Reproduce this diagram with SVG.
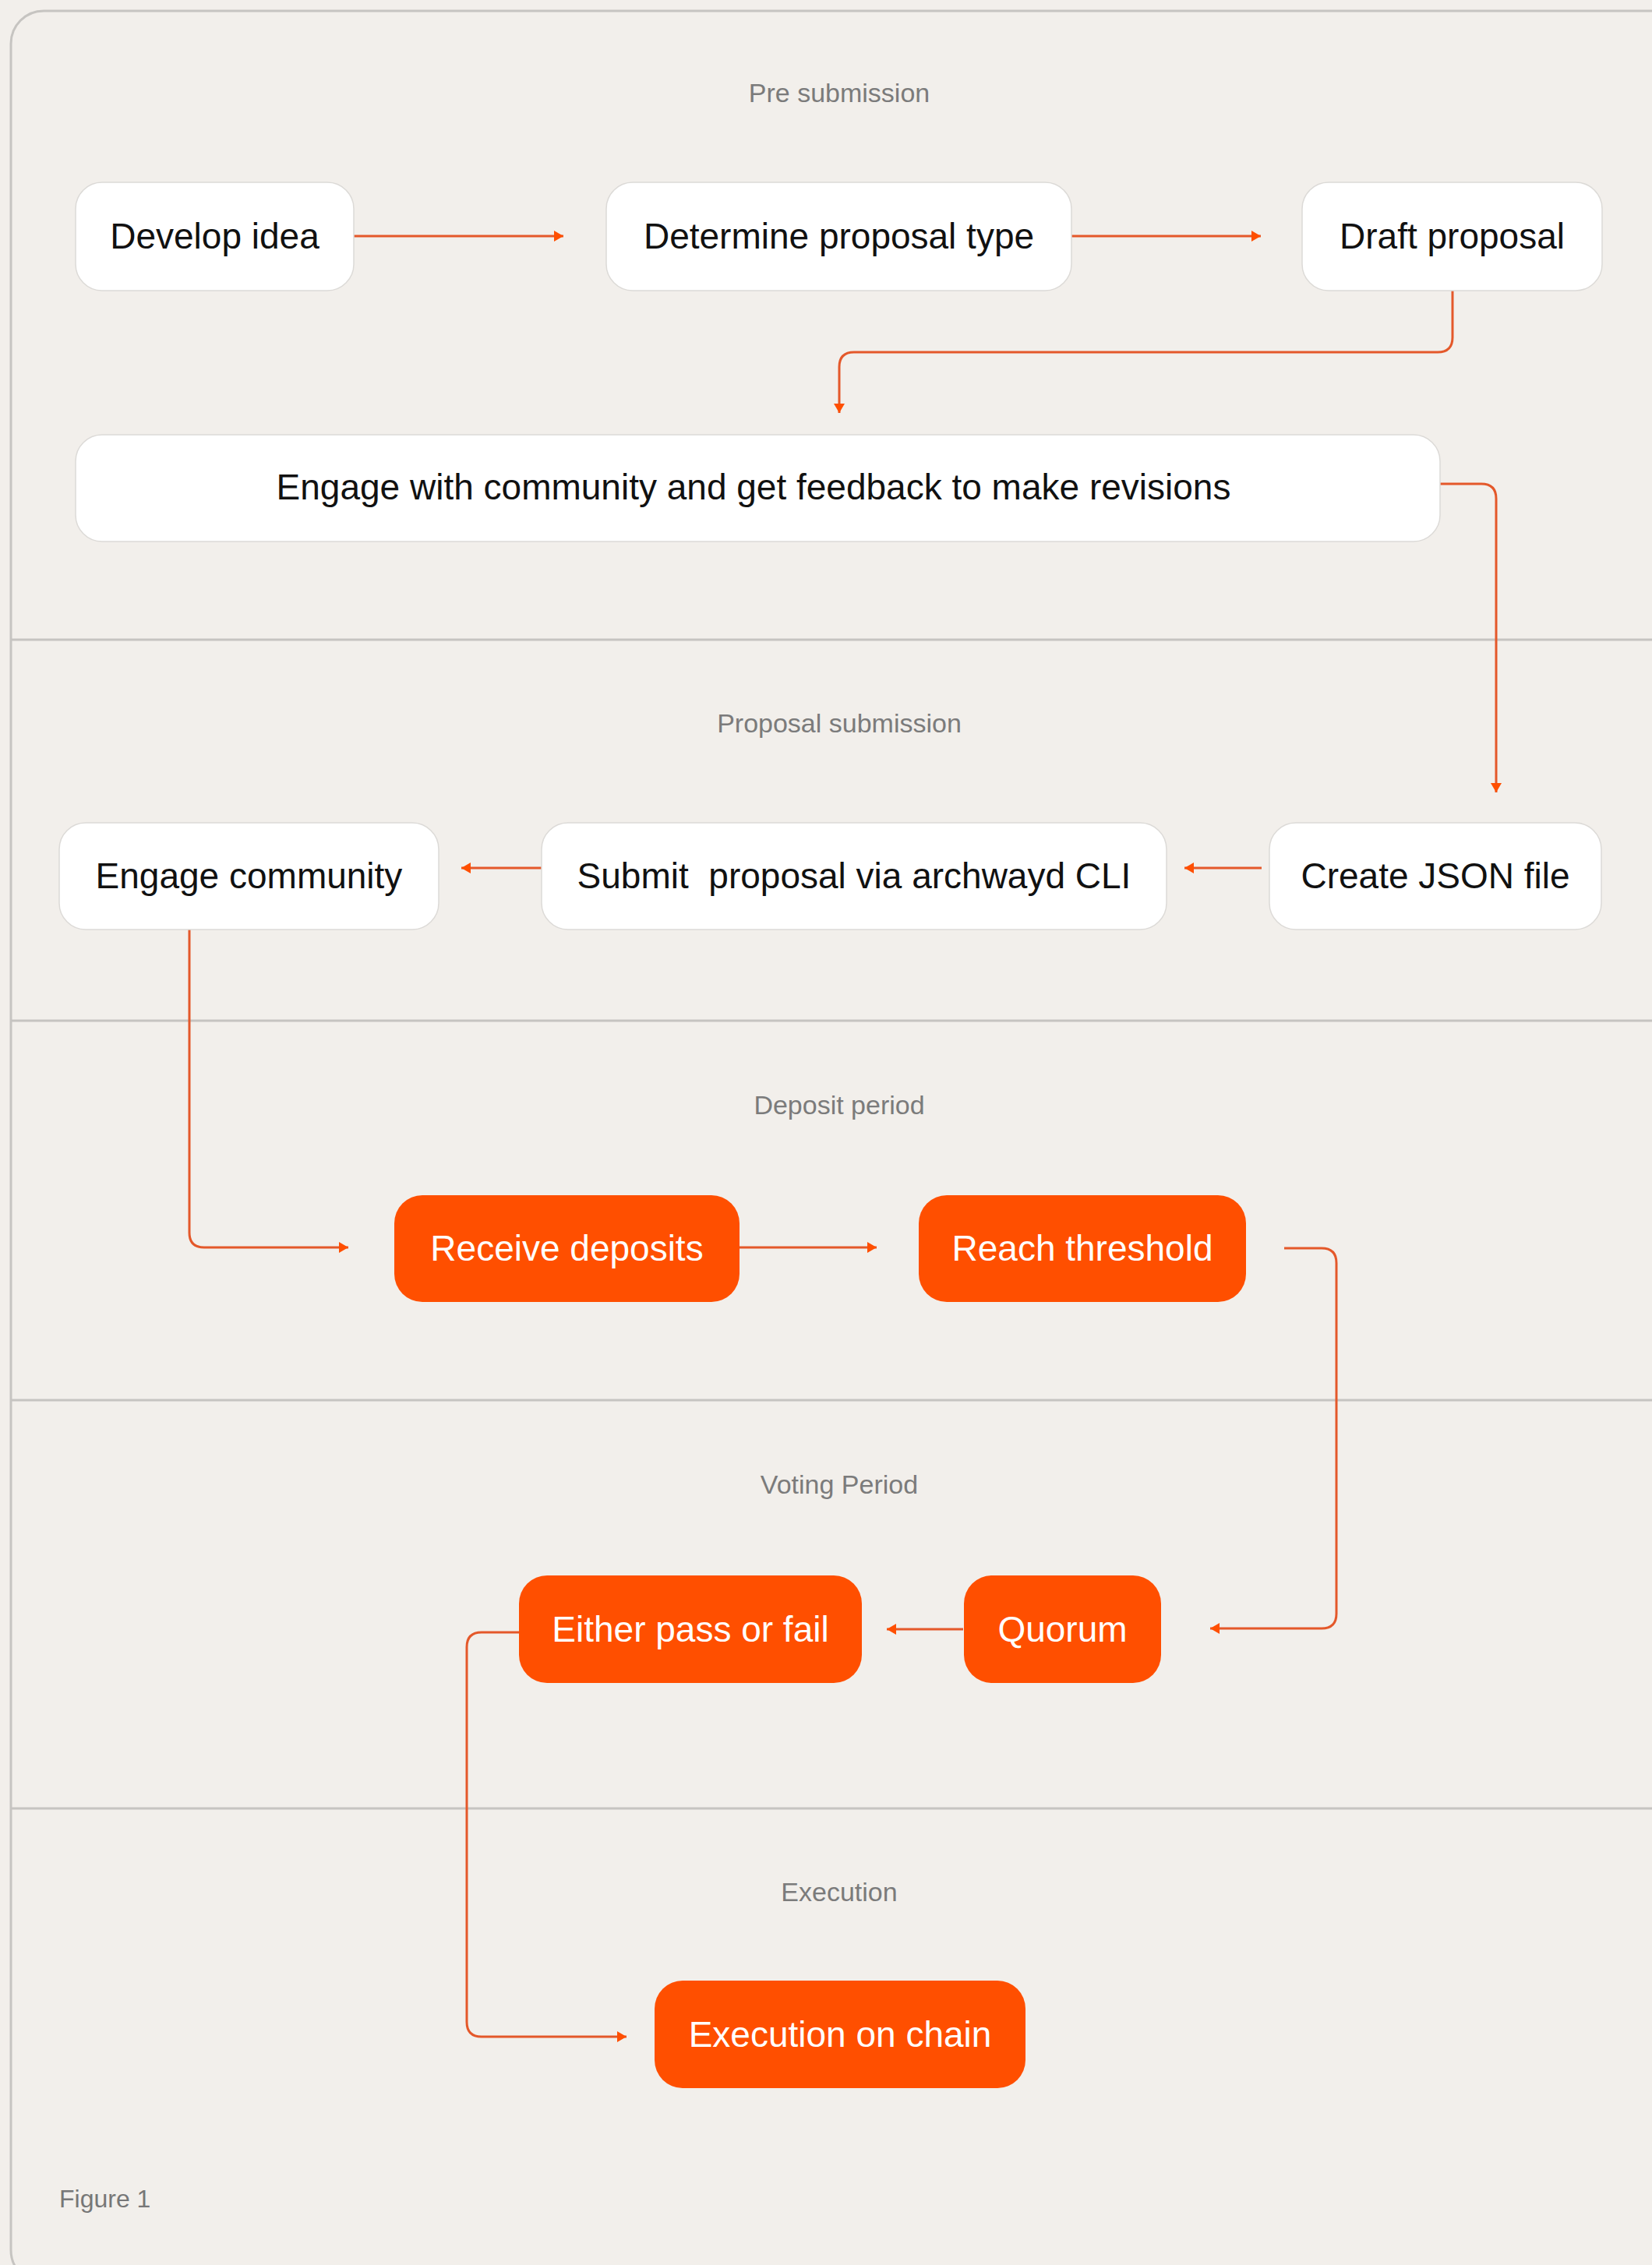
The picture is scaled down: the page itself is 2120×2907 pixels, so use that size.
<svg xmlns="http://www.w3.org/2000/svg" width="2120" height="2907" viewBox="0 0 2120 2907">
<defs>
<style>
.bg{fill:#f2efeb}
.frame{fill:#f2efeb;stroke:#c6c4c1;stroke-width:3}
.div{stroke:#c6c4c1;stroke-width:3}
.wbox{fill:#ffffff;stroke:#dcdad7;stroke-width:1.5}
.obox{fill:#ff4f00}
.t{font-family:"Liberation Sans",Arial,sans-serif;font-size:46px;text-anchor:middle;fill:#111111;white-space:pre}
.tw{fill:#ffffff}
.lab{font-family:"Liberation Sans",Arial,sans-serif;font-size:34px;text-anchor:middle;fill:#7b7b7b}
.fig{font-family:"Liberation Sans",Arial,sans-serif;font-size:32px;fill:#777777}
.c{fill:none;stroke:#e4582a;stroke-width:3;marker-end:url(#ah)}
</style>
<marker id="ah" viewBox="0 0 12 14" refX="12" refY="7" markerWidth="12" markerHeight="14" markerUnits="userSpaceOnUse" orient="auto">
<path d="M0,0 L12,7 L0,14 Z" fill="#ff4f00"/>
</marker>
</defs>
<rect class="bg" x="0" y="0" width="2120" height="2907"/>
<rect class="frame" x="14" y="14" width="2200" height="2916" rx="42"/>
<g id="dividers">
<line class="div" x1="15" y1="821" x2="2120" y2="821"/>
<line class="div" x1="15" y1="1310" x2="2120" y2="1310"/>
<line class="div" x1="15" y1="1797" x2="2120" y2="1797"/>
<line class="div" x1="15" y1="2321" x2="2120" y2="2321"/>
</g>
<g id="labels">
<text class="lab" x="1077" y="131">Pre submission</text>
<text class="lab" x="1077" y="940">Proposal submission</text>
<text class="lab" x="1077" y="1430">Deposit period</text>
<text class="lab" x="1077" y="1917">Voting Period</text>
<text class="lab" x="1077" y="2440">Execution</text>
<text class="fig" x="76" y="2833">Figure 1</text>
</g>
<g id="connectors">
<path class="c" d="M454,303 H723"/>
<path class="c" d="M1375,303 H1618"/>
<path class="c" d="M1864,373 V433 Q1864,452 1845,452 H1096 Q1077,452 1077,471 V530"/>
<path class="c" d="M1848,621 H1901 Q1920,621 1920,640 V1017"/>
<path class="c" d="M1619,1114 H1520"/>
<path class="c" d="M695,1114 H592"/>
<path class="c" d="M243,1193 V1582 Q243,1601 262,1601 H447"/>
<path class="c" d="M949,1601 H1125"/>
<path class="c" d="M1648,1602 H1696 Q1715,1602 1715,1621 V2071 Q1715,2090 1696,2090 H1553"/>
<path class="c" d="M1236,2091 H1138"/>
<path class="c" d="M666,2095 H618 Q599,2095 599,2114 V2595 Q599,2614 618,2614 H804"/>
</g>
<g id="n-develop"><rect class="wbox" x="97" y="234" width="357" height="139" rx="34"/><text class="t" x="275.5" y="319">Develop idea</text></g>
<g id="n-determine"><rect class="wbox" x="778" y="234" width="597" height="139" rx="34"/><text class="t" x="1076.5" y="319">Determine proposal type</text></g>
<g id="n-draft"><rect class="wbox" x="1671" y="234" width="385" height="139" rx="34"/><text class="t" x="1863.5" y="319">Draft proposal</text></g>
<g id="n-engage-revise"><rect class="wbox" x="97" y="558" width="1751" height="137" rx="34"/><text class="t" x="967" y="641">Engage with community and get feedback to make revisions</text></g>
<g id="n-engage"><rect class="wbox" x="76" y="1056" width="487" height="137" rx="34"/><text class="t" x="319.5" y="1140">Engage community</text></g>
<g id="n-submit"><rect class="wbox" x="695" y="1056" width="802" height="137" rx="34"/><text class="t" x="1096" y="1140">Submit  proposal via archwayd CLI</text></g>
<g id="n-json"><rect class="wbox" x="1629" y="1056" width="426" height="137" rx="34"/><text class="t" x="1842" y="1140">Create JSON file</text></g>
<g id="n-receive"><rect class="obox" x="506" y="1534" width="443" height="137" rx="36"/><text class="t tw" x="727.5" y="1618">Receive deposits</text></g>
<g id="n-reach"><rect class="obox" x="1179" y="1534" width="420" height="137" rx="36"/><text class="t tw" x="1389" y="1618">Reach threshold</text></g>
<g id="n-either"><rect class="obox" x="666" y="2022" width="440" height="138" rx="36"/><text class="t tw" x="886" y="2107">Either pass or fail</text></g>
<g id="n-quorum"><rect class="obox" x="1237" y="2022" width="253" height="138" rx="36"/><text class="t tw" x="1363.5" y="2107">Quorum</text></g>
<g id="n-exec"><rect class="obox" x="840" y="2542" width="476" height="138" rx="36"/><text class="t tw" x="1078" y="2627">Execution on chain</text></g>
</svg>
